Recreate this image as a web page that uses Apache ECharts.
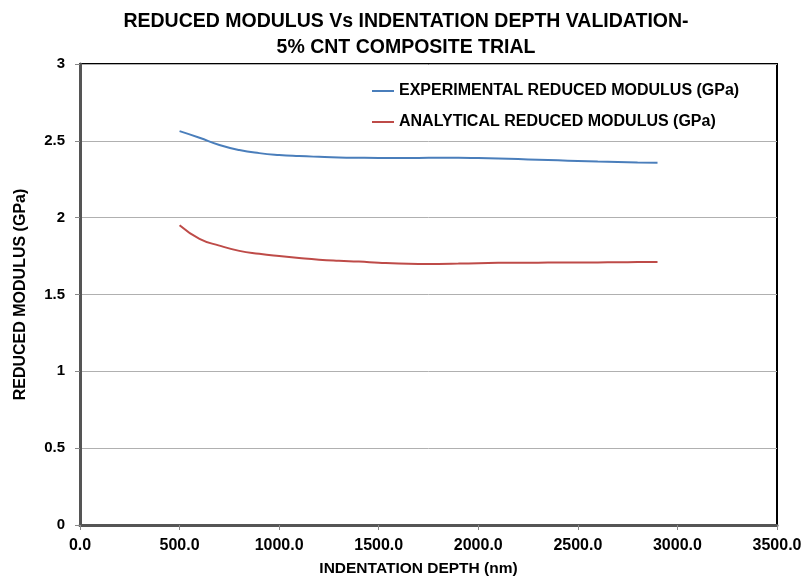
<!DOCTYPE html>
<html>
<head>
<meta charset="utf-8">
<script src="https://cdn.jsdelivr.net/npm/echarts@6/dist/echarts.min.js"></script>
<style>html,body{margin:0;padding:0;background:#fff;}#c{width:807px;height:579px;}</style>
</head>
<body>
<div id="c"></div>
<script>
const depth = [500,600,700,800,900,1000,1100,1200,1300,1400,1500,1600,1700,1800,1900,2000,2100,2200,2300,2400,2500,2600,2700,2800,2900];
const experimental = [2.563,2.52,2.473,2.44,2.42,2.408,2.401,2.396,2.392,2.39,2.389,2.389,2.389,2.39,2.39,2.388,2.385,2.381,2.377,2.373,2.369,2.365,2.362,2.359,2.357];
const analytical = [1.95,1.862,1.818,1.784,1.765,1.75,1.737,1.726,1.719,1.714,1.707,1.701,1.699,1.699,1.701,1.704,1.706,1.707,1.707,1.708,1.708,1.709,1.71,1.711,1.712];
const seriesNames = ['EXPERIMENTAL REDUCED MODULUS (GPa)','ANALYTICAL REDUCED MODULUS (GPa)'];
const titleText = 'REDUCED MODULUS Vs INDENTATION DEPTH VALIDATION-\n5% CNT COMPOSITE TRIAL';

const chart = echarts.init(document.getElementById('c'), null, {renderer:'canvas'});
const font = 'Liberation Sans, Arial, sans-serif';
chart.setOption({
  backgroundColor:'#fff',
  animation:false,
  title:{text:titleText,left:401,textAlign:'center',top:4,
    textStyle:{fontFamily:font,fontSize:19.5,fontWeight:'bold',color:'#000',lineHeight:26}},
  legend:{orient:'vertical',left:367,top:78,itemGap:15,itemWidth:22,itemHeight:2,icon:'rect',
    data:seriesNames,textStyle:{fontFamily:font,fontSize:16,fontWeight:'bold',color:'#000'}},
  grid:{left:80,right:30,top:64,bottom:54,show:true,borderColor:'#000',borderWidth:2,outerBoundsMode:'none',containLabel:false},
  xAxis:{type:'value',min:0,max:3500,interval:500,
    name:'INDENTATION DEPTH (nm)',nameLocation:'middle',nameGap:36,
    nameTextStyle:{fontFamily:font,fontSize:15.5,fontWeight:'bold',color:'#000',padding:[0,20,0,0]},
    axisLine:{show:true,lineStyle:{color:'#555',width:3}},
    axisTick:{show:true,length:5,lineStyle:{color:'#888'}},
    axisLabel:{fontFamily:font,fontSize:16,fontWeight:'bold',color:'#000',margin:13,formatter:v=>v.toFixed(1)},
    splitLine:{show:false}},
  yAxis:{type:'value',min:0,max:3,interval:0.5,
    name:'REDUCED MODULUS (GPa)',nameLocation:'middle',nameGap:51,
    nameTextStyle:{fontFamily:font,fontSize:16,fontWeight:'bold',color:'#000'},
    axisLine:{show:true,lineStyle:{color:'#555',width:3}},
    axisTick:{show:true,length:5,lineStyle:{color:'#888'}},
    axisLabel:{fontFamily:font,fontSize:15,fontWeight:'bold',color:'#000',margin:15},
    splitLine:{show:true,lineStyle:{color:'#b0b0b0',width:1}}},
  series:[
    {name:seriesNames[0],type:'line',symbol:'none',smooth:true,data:depth.map((d,i)=>[d,experimental[i]]),
      lineStyle:{color:'#4a7ebb',width:2},itemStyle:{color:'#4a7ebb'}},
    {name:seriesNames[1],type:'line',symbol:'none',smooth:true,data:depth.map((d,i)=>[d,analytical[i]]),
      lineStyle:{color:'#be4b48',width:2},itemStyle:{color:'#be4b48'}}
  ]
});
</script>
</body>
</html>
